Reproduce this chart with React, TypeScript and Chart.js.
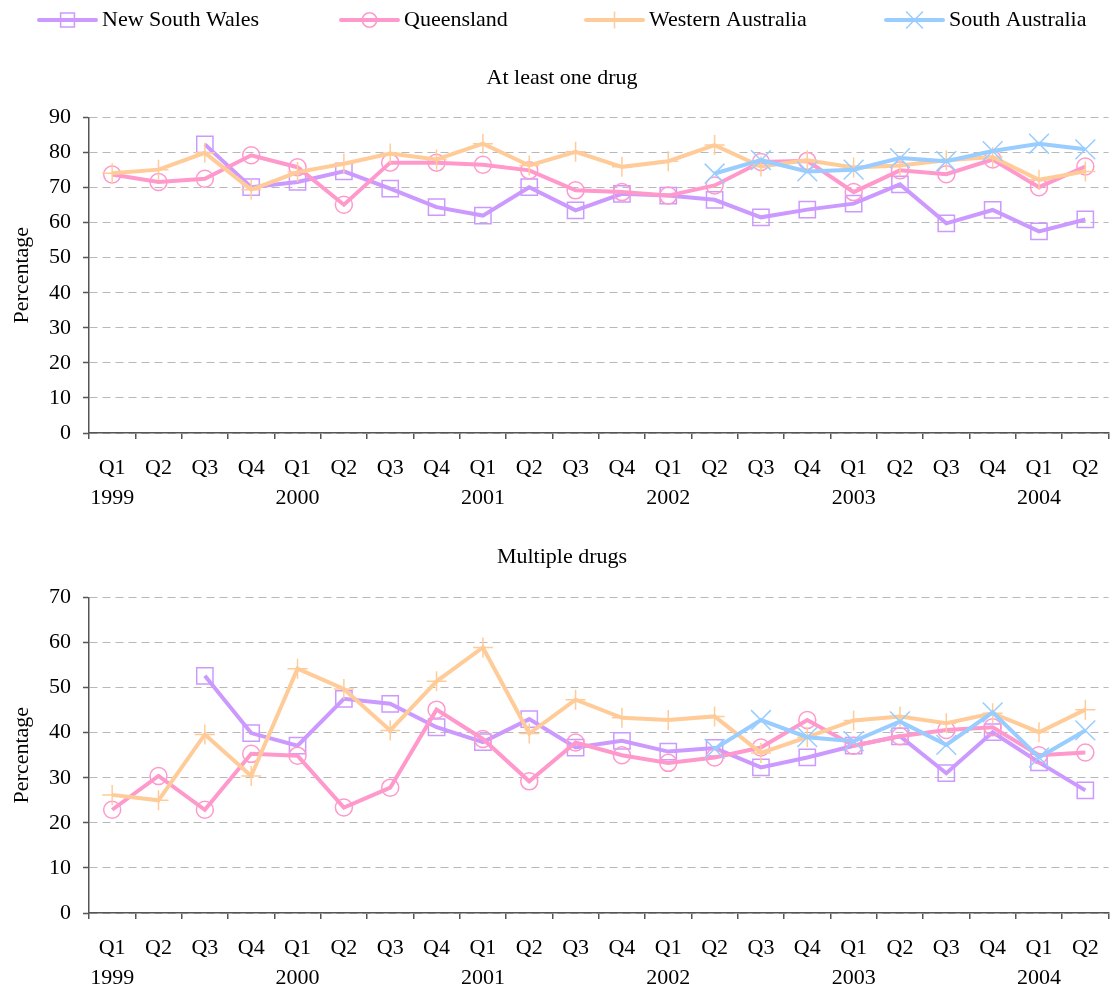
import React, { useEffect, useRef } from 'react';
import { Chart, registerables } from 'chart.js';

Chart.register(...registerables);

const FONT = "'Liberation Serif', 'Times New Roman', serif";

// ---- Data ----
const quarterLabels = [
  'Q1', 'Q2', 'Q3', 'Q4', 'Q1', 'Q2', 'Q3', 'Q4', 'Q1', 'Q2', 'Q3',
  'Q4', 'Q1', 'Q2', 'Q3', 'Q4', 'Q1', 'Q2', 'Q3', 'Q4', 'Q1', 'Q2',
];
const yearLabels = [
  '1999', '', '', '', '2000', '', '', '', '2001', '', '',
  '', '2002', '', '', '', '2003', '', '', '', '2004', '',
];

const seriesNames = ['New South Wales', 'Queensland', 'Western Australia', 'South Australia'];
const seriesColors = ['#CC99FF', '#FF99CC', '#FFCC99', '#99CCFF'];
const seriesPointStyles = ['rect', 'circle', 'cross', 'crossRot'];
const seriesPointRadii = [11.5, 8.5, 10, 14];

// At least one drug (%)
const nswAny = [null, null, 82.3, 70.1, 71.6, 74.6, 69.7, 64.4, 62.0, 70.1, 63.5, 68.2, 67.7, 66.5, 61.5, 63.7, 65.4, 70.9, 59.8, 63.6, 57.5, 60.9];
const qldAny = [73.7, 71.6, 72.5, 79.2, 75.8, 65.1, 77.1, 77.1, 76.5, 74.9, 69.2, 68.7, 67.7, 70.6, 77.3, 77.6, 68.7, 74.9, 73.8, 78.0, 70.1, 76.0];
const waAny = [74.1, 75.1, 79.9, 69.4, 74.4, 76.8, 79.7, 78.0, 82.5, 76.3, 80.2, 75.9, 77.5, 82.1, 76.0, 77.8, 75.7, 76.3, 77.8, 78.7, 72.2, 74.6];
const saAny = [null, null, null, null, null, null, null, null, null, null, null, null, null, 74.0, 77.8, 74.6, 75.1, 78.4, 77.5, 80.4, 82.5, 80.9];

// Multiple drugs (%)
const nswMulti = [null, null, 52.6, 39.9, 37.1, 47.5, 46.4, 41.2, 37.9, 43.0, 36.7, 38.2, 35.8, 36.6, 32.3, 34.5, 37.1, 39.2, 31.0, 40.1, 33.4, 27.2];
const qldMulti = [22.9, 30.4, 22.9, 35.3, 34.9, 23.4, 27.8, 45.1, 38.6, 29.2, 37.8, 35.0, 33.3, 34.5, 36.7, 42.8, 37.1, 39.2, 40.6, 41.2, 35.0, 35.6];
const waMulti = [26.2, 25.0, 39.6, 30.4, 54.2, 49.7, 40.5, 51.4, 58.9, 39.8, 47.3, 43.3, 42.8, 43.6, 35.5, 39.0, 42.7, 43.6, 42.1, 44.3, 40.1, 45.1];
const saMulti = [null, null, null, null, null, null, null, null, null, null, null, null, null, 36.4, 42.8, 39.0, 38.1, 42.5, 37.3, 44.5, 34.5, 40.5];

const anyTitle = 'At least one drug';
const multiTitle = 'Multiple drugs';
const yTitle = 'Percentage';

// ---- Layout constants ----
const CANVAS_W = 1124;
const TOP_H = 527;
const BOTTOM_H = 480;
const LEGEND_Y = 20;
const LEGEND_STARTS = [39, 341, 586, 886];

const labels = quarterLabels.map((q, i) => (yearLabels[i] ? [q, yearLabels[i]] : q));

function drawMarker(ctx: CanvasRenderingContext2D, style: string, x: number, y: number, r: number) {
  ctx.beginPath();
  if (style === 'rect') {
    const s = r * Math.SQRT1_2;
    ctx.rect(x - s, y - s, 2 * s, 2 * s);
  } else if (style === 'circle') {
    ctx.arc(x, y, r, 0, Math.PI * 2);
  } else if (style === 'cross') {
    ctx.moveTo(x, y - r);
    ctx.lineTo(x, y + r);
    ctx.moveTo(x - r, y);
    ctx.lineTo(x + r, y);
  } else {
    const d = r * Math.SQRT1_2;
    ctx.moveTo(x - d, y - d);
    ctx.lineTo(x + d, y + d);
    ctx.moveTo(x - d, y + d);
    ctx.lineTo(x + d, y - d);
  }
  ctx.stroke();
}

const legendPlugin = {
  id: 'lineMarkerLegend',
  afterDraw(chart: any) {
    const ctx: CanvasRenderingContext2D = chart.ctx;
    ctx.save();
    seriesNames.forEach((name, i) => {
      const x0 = LEGEND_STARTS[i];
      const color = seriesColors[i];
      ctx.strokeStyle = color;
      ctx.lineWidth = 4;
      ctx.lineCap = 'round';
      ctx.beginPath();
      ctx.moveTo(x0, LEGEND_Y);
      ctx.lineTo(x0 + 57, LEGEND_Y);
      ctx.stroke();
      ctx.lineCap = 'butt';
      ctx.lineWidth = 1.5;
      drawMarker(ctx, seriesPointStyles[i], x0 + 28.5, LEGEND_Y, seriesPointRadii[i] * 0.85);
      ctx.fillStyle = '#000';
      ctx.font = `22px ${FONT}`;
      ctx.textBaseline = 'middle';
      ctx.textAlign = 'left';
      ctx.fillText(name, x0 + 63, LEGEND_Y);
    });
    ctx.restore();
  },
};

function makeDatasets(values: (number | null)[][]) {
  return values.map((data, i) => ({
    label: seriesNames[i],
    data,
    borderColor: seriesColors[i],
    backgroundColor: 'rgba(0,0,0,0)',
    borderWidth: 4,
    pointStyle: seriesPointStyles[i],
    pointRadius: seriesPointRadii[i],
    pointBorderColor: seriesColors[i],
    pointBackgroundColor: 'rgba(0,0,0,0)',
    pointBorderWidth: 1.5,
    tension: 0,
    spanGaps: false,
    order: values.length - i,
  }));
}

function makeConfig(opts: {
  title: string;
  values: (number | null)[][];
  yMax: number;
  padTop: number;
  titlePadTop: number;
  titlePadBottom: number;
  withLegend: boolean;
}): any {
  return {
    type: 'line',
    data: { labels, datasets: makeDatasets(opts.values) },
    plugins: opts.withLegend ? [legendPlugin] : [],
    options: {
      responsive: false,
      animation: false,
      events: [],
      layout: { padding: { top: opts.padTop, left: 0, right: 0, bottom: 0 } },
      plugins: {
        legend: { display: false },
        tooltip: { enabled: false },
        title: {
          display: true,
          text: opts.title,
          color: '#000',
          font: { family: FONT, size: 22, weight: 'normal', lineHeight: 1.2 },
          padding: { top: opts.titlePadTop, bottom: opts.titlePadBottom },
        },
      },
      scales: {
        x: {
          type: 'category',
          offset: true,
          grid: {
            display: true,
            drawOnChartArea: false,
            drawTicks: true,
            tickLength: 6,
            offset: true,
            color: '#555',
            tickColor: '#555',
            tickWidth: 1.5,
            lineWidth: 1.5,
          },
          border: { display: true, color: '#555', width: 1.5 },
          ticks: {
            autoSkip: false,
            maxRotation: 0,
            minRotation: 0,
            padding: 14,
            color: '#000',
            font: { family: FONT, size: 22, lineHeight: 30 / 22 },
          },
        },
        y: {
          min: 0,
          max: opts.yMax,
          afterFit: (scale: any) => {
            scale.width = 89;
          },
          grid: {
            color: '#b8b8b8',
            lineWidth: 1,
            drawTicks: true,
            tickLength: 6,
            tickColor: '#555',
            tickWidth: 1.5,
            tickBorderDash: [],
          },
          border: { display: true, color: '#555', width: 1.5, dash: [8, 5] },
          ticks: {
            stepSize: 10,
            padding: 12,
            color: '#000',
            font: { family: FONT, size: 22 },
          },
          title: {
            display: true,
            text: yTitle,
            color: '#000',
            font: { family: FONT, size: 22, lineHeight: 1.2 },
            padding: { top: 9, bottom: 0 },
          },
        },
      },
    },
  };
}

export default function App() {
  const topRef = useRef<HTMLCanvasElement | null>(null);
  const bottomRef = useRef<HTMLCanvasElement | null>(null);

  useEffect(() => {
    Chart.defaults.font.family = FONT;
    const charts: Chart[] = [];
    if (topRef.current) {
      charts.push(
        new Chart(
          topRef.current,
          makeConfig({
            title: anyTitle,
            values: [nswAny, qldAny, waAny, saAny],
            yMax: 90,
            padTop: 50,
            titlePadTop: 15,
            titlePadBottom: 26,
            withLegend: true,
          })
        )
      );
    }
    if (bottomRef.current) {
      charts.push(
        new Chart(
          bottomRef.current,
          makeConfig({
            title: multiTitle,
            values: [nswMulti, qldMulti, waMulti, saMulti],
            yMax: 70,
            padTop: 0,
            titlePadTop: 17,
            titlePadBottom: 27,
            withLegend: false,
          })
        )
      );
    }
    return () => {
      charts.forEach((c) => c.destroy());
    };
  }, []);

  return (
    <div
      style={{
        position: 'absolute',
        left: 0,
        top: 0,
        width: 1120,
        height: 989,
        overflow: 'hidden',
        background: '#fff',
      }}
    >
      <canvas ref={topRef} width={CANVAS_W} height={TOP_H} style={{ display: 'block' }} />
      <canvas ref={bottomRef} width={CANVAS_W} height={BOTTOM_H} style={{ display: 'block' }} />
    </div>
  );
}
